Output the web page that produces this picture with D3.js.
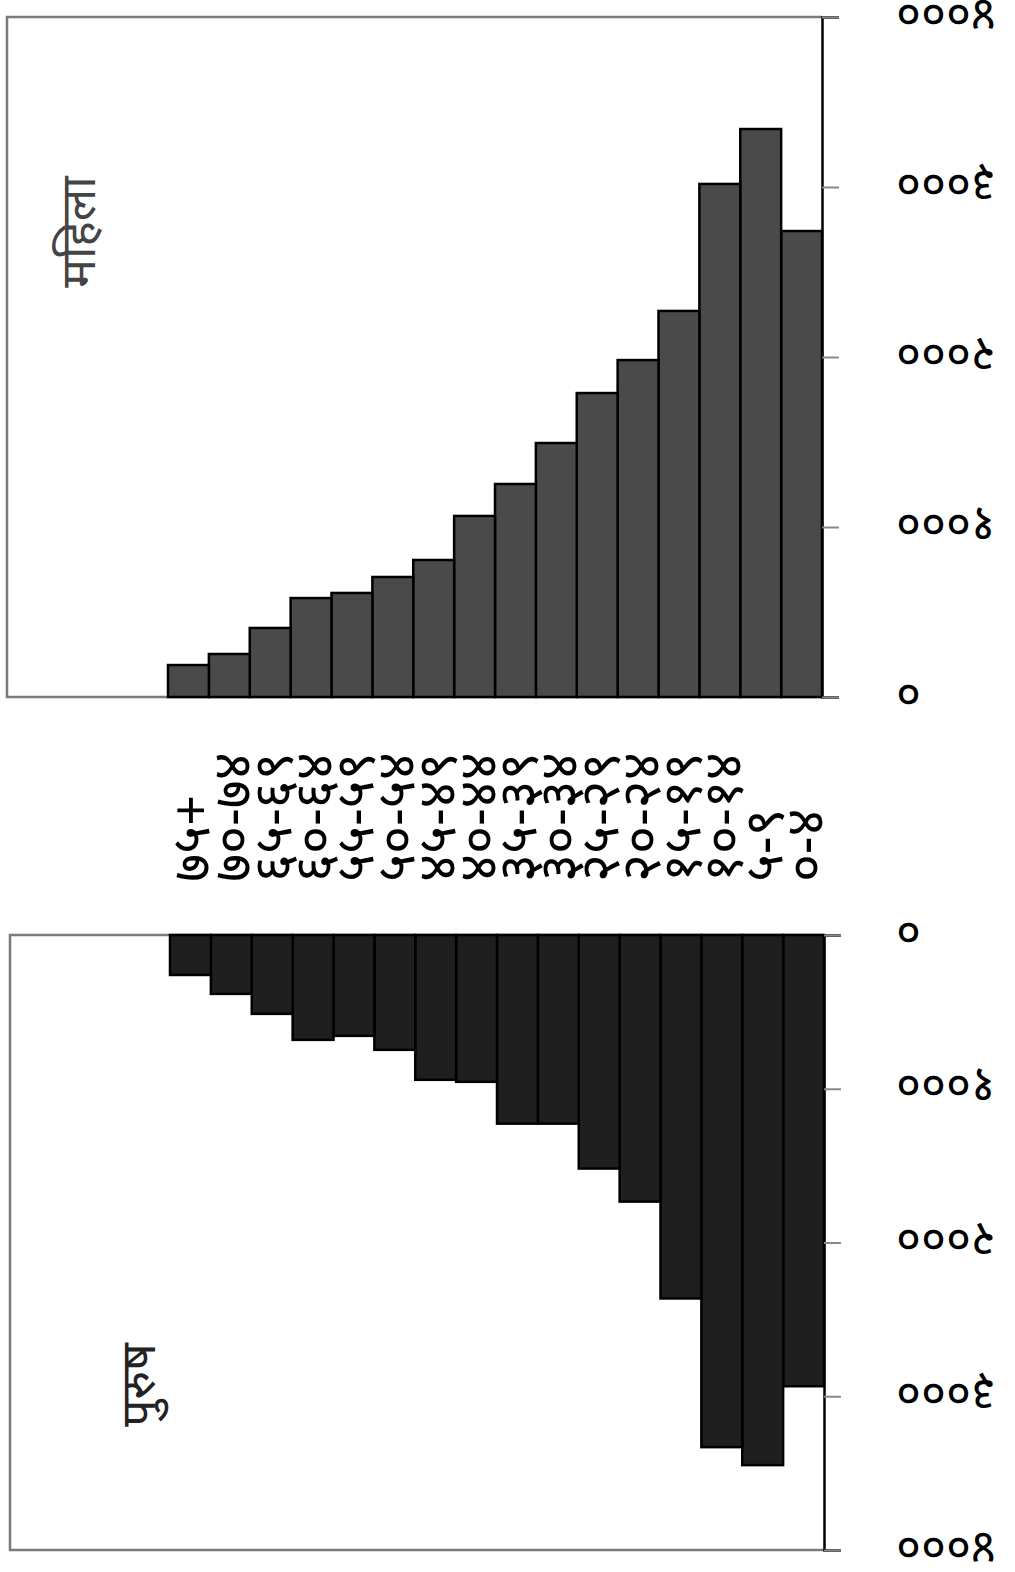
<!DOCTYPE html>
<html>
<head>
<meta charset="utf-8">
<script src="https://cdn.jsdelivr.net/npm/d3@7"></script>
<style>
  body { margin: 0; background: #fff; }
  text { font-family: "Noto Sans", "DejaVu Sans", sans-serif; }
</style>
</head>
<body>
<div id="chart"></div>
<script>
// age groups, youngest first
let ages = ['०-४','५-९','१०-१४','१५-१९','२०-२४','२५-२९','३०-३४','३५-३९',
            '४०-४४','४५-४९','५०-५४','५५-५९','६०-६४','६५-६९','७०-७४','७५+'];
let female = [2741, 3341, 3018, 2271, 1982, 1788, 1494, 1253, 1065, 806, 706, 612, 582, 406, 253, 188];
let male   = [2935, 3448, 3331, 2364, 1734, 1519, 1227, 1227, 955, 942, 747, 656, 682, 513, 383, 260];
let ticks = [0, 1000, 2000, 3000, 4000];

let digits = '०१२३४५६७८९';
let deva = n => String(n).replace(/[0-9]/g, c => digits[+c]);

let svg = d3.select('#chart').append('svg')
    .attr('width', 1015).attr('height', 1572);

// one panel per sex
function panel(vals, opts) {
    let x = d3.scaleBand().domain(ages.slice().reverse())
        .range([opts.x0, opts.x1]).padding(0);
    let y = d3.scaleLinear().domain([0, 4000]).range([opts.base, opts.far]);
    let g = svg.append('g');

    // frame
    g.append('path')
        .attr('d', `M${opts.x1},${opts.far} L${opts.left},${opts.far} L${opts.left},${opts.base} L${opts.x1},${opts.base}`)
        .attr('fill', 'none').attr('stroke', '#7a7a7a').attr('stroke-width', 2.5);

    g.selectAll('rect').data(vals).enter().append('rect')
        .attr('x', (d, i) => x(ages[i]))
        .attr('width', x.bandwidth())
        .attr('y', d => Math.min(y(d), y(0)))
        .attr('height', d => Math.abs(y(d) - y(0)))
        .attr('fill', opts.fill)
        .attr('stroke', '#000').attr('stroke-width', 2.5);

    let ax = g.append('g').attr('transform', `translate(${opts.x1},0)`)
        .call(d3.axisRight(y).tickValues(ticks).tickSize(17).tickFormat(''));
    ax.select('.domain').attr('stroke', '#000').attr('stroke-width', 2.5);
    ax.selectAll('.tick line').attr('stroke', '#888').attr('stroke-width', 2);

    g.selectAll('.tlab').data(ticks).enter().append('text')
        .attr('class', 'tlab')
        .attr('x', 896).attr('y', d => y(d))
        .attr('text-anchor', 'end')
        .attr('dominant-baseline', 'central')
        .attr('transform', d => `rotate(180,896,${y(d)})`)
        .attr('font-size', 48)
        .text(d => deva(d));

    g.append('text')
        .attr('transform', `translate(${opts.lx},${opts.ly}) rotate(-90)`)
        .attr('text-anchor', 'middle')
        .attr('dominant-baseline', 'central')
        .attr('font-size', 48).attr('fill', opts.lcol)
        .text(opts.label);
    return x;
}

let xf = panel(female, {x0: 168, x1: 822, left: 7, base: 697, far: 17,
    fill: '#4a4a4a', label: 'महिला', lx: 76, ly: 232, lcol: '#444'});
panel(male, {x0: 170, x1: 824, left: 10, base: 935, far: 1550,
    fill: '#1f1f1f', label: 'पुरुष', lx: 136, ly: 1385, lcol: '#222'});

// age labels between the panels
svg.selectAll('.age').data(ages).enter().append('text')
    .attr('class', 'age')
    .attr('transform', d => `translate(${xf(d) + xf.bandwidth() / 2 + 1},882) rotate(-90)`)
    .attr('text-anchor', 'start')
    .attr('dominant-baseline', 'central')
    .attr('font-size', 54)
    .text(d => d);
</script>
</body>
</html>
